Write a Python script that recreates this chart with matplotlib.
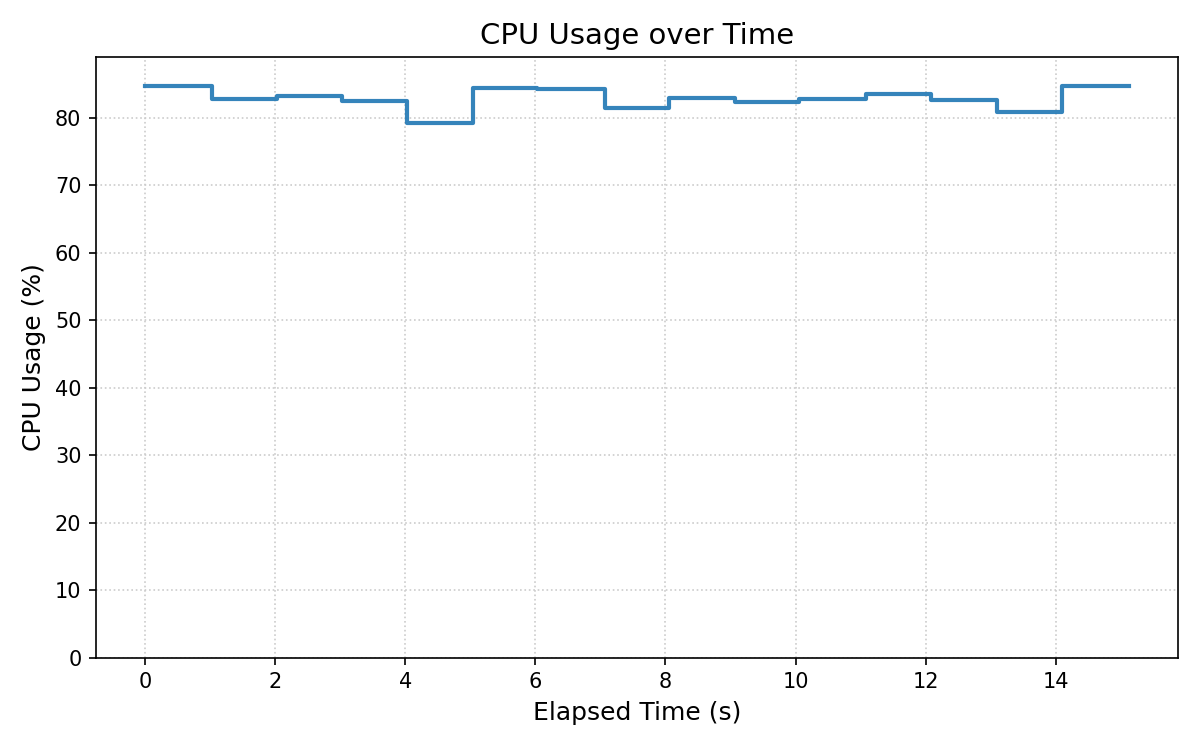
import matplotlib
matplotlib.use('Agg')
import matplotlib.pyplot as plt

# elapsed time of each sample (s) and cpu usage (%)
elapsed = [0.0, 1.02, 2.02, 3.03, 4.03, 5.04, 6.03, 7.07, 8.05, 9.07,
           10.06, 11.08, 12.08, 13.09, 14.10, 15.13]
cpu = [84.8, 82.8, 83.3, 82.5, 79.3, 84.5, 84.3, 81.5, 83.0, 82.4,
       82.8, 83.6, 82.7, 80.9, 84.8, 84.8]

fig, ax = plt.subplots(figsize=(8, 5), dpi=150)
ax.step(elapsed, cpu, where='post', color='#1f77b4', alpha=0.9, linewidth=2)
ax.set_ylim(0, max(cpu) * 1.05)
ax.set_title('CPU Usage over Time', fontsize=14)
ax.set_xlabel('Elapsed Time (s)', fontsize=12)
ax.set_ylabel('CPU Usage (%)', fontsize=12)
ax.tick_params(labelsize=10)
ax.grid(True, linestyle=':', color='#cccccc', linewidth=0.8)
fig.subplots_adjust(left=0.08, right=0.982, top=0.924, bottom=0.123)
fig.savefig('out.png')
